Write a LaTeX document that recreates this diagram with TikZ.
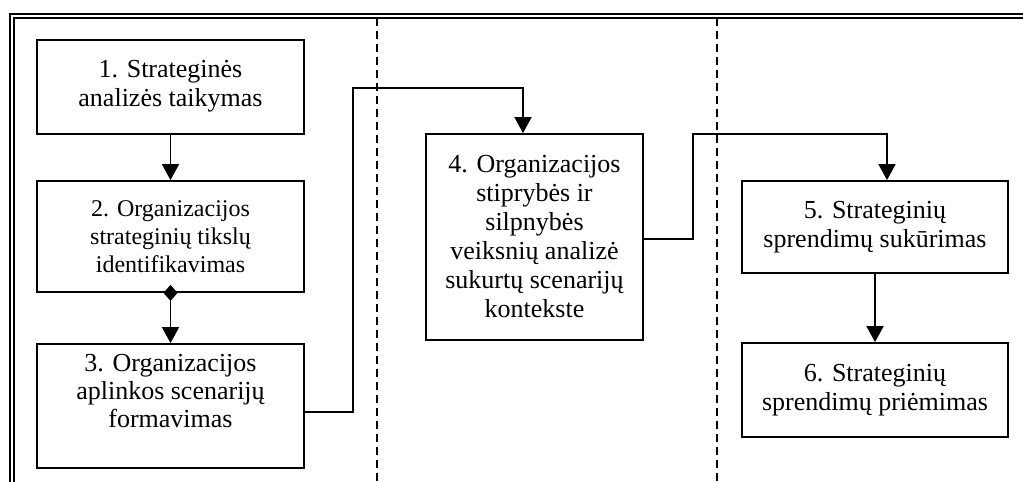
\documentclass[tikz,border=0pt]{standalone}
\usepackage{fontspec}
\setmainfont{Liberation Serif}
\usetikzlibrary{arrows.meta}
\begin{document}
\begin{tikzpicture}[x=1pt,y=-1pt,
  stagebox/.style={draw, line width=1.8pt, align=center, inner sep=0pt,
    font=\fontsize{26}{29}\selectfont},
  stagetext/.style={align=center, inner sep=0pt, font=\fontsize{26}{28}\selectfont},
  smalltext/.style={font=\fontsize{24}{28}\selectfont},
  link/.style={line width=1.8pt, -{Triangle[length=16pt,width=17pt]}},
  lane/.style={line width=1.1pt, dash pattern=on 8pt off 5pt}]
\useasboundingbox (0,0) rectangle (1023,482);
% double frame on top and left
\draw[line width=2.5pt] (10,482) -- (10,14) -- (1023,14);
\draw[line width=1.2pt] (14,482) -- (14,18) -- (1023,18);
% lane separators
\draw[lane] (377,18) -- (377,482);
\draw[lane] (717,18) -- (717,482);
% stages
\node[stagebox, minimum width=267pt, minimum height=94pt] (b1) at (170.5,87)
  {1. Strateginės\\analizės taikymas\\[-21pt]\mbox{}};
\node[stagebox, smalltext, minimum width=267pt, minimum height=111pt] (b2) at (170.5,236.5)
  {2. Organizacijos\\strateginių tikslų\\identifikavimas};
\node[stagebox, minimum width=267pt, minimum height=124pt] (b3) at (170.5,406) {};
\node[stagetext, anchor=north] (b3text) at ([yshift=-11pt]b3.north)
  {3. Organizacijos\\aplinkos scenarijų\\formavimas};
\node[stagebox, minimum width=217pt, minimum height=206pt] (b4) at (534.5,237)
  {4. Organizacijos\\stiprybės ir\\silpnybės\\veiksnių analizė\\sukurtų scenarijų\\kontekste};
\node[stagebox, minimum width=266pt, minimum height=92pt] (b5) at (875,227)
  {5. Strateginių\\sprendimų sukūrimas};
\node[stagebox, minimum width=266pt, minimum height=94pt] (b6) at (875,390)
  {6. Strateginių\\sprendimų priėmimas};
% bends of the long connectors
\coordinate (k1) at (353,88);
\coordinate (k2) at (523,88);
\coordinate (k3) at (693,134);
\coordinate (k4) at (887,134);
% connectors
\draw[link] (b1.south) -- (b2.north);
\draw[link, {Diamond[length=16pt,width=14pt]}-{Triangle[length=16pt,width=17pt]}, shorten <=-8pt]
  (b2.south) -- (b3.north);
\draw[link] ([yshift=-6pt]b3.east) -| (k1) -- (k2) -- (k2 |- b4.north);
\draw[link] ([yshift=-2pt]b4.east) -| (k3) -- (k4) -- (k4 |- b5.north);
\draw[link] (b5.south) -- (b6.north);
\end{tikzpicture}
\end{document}
